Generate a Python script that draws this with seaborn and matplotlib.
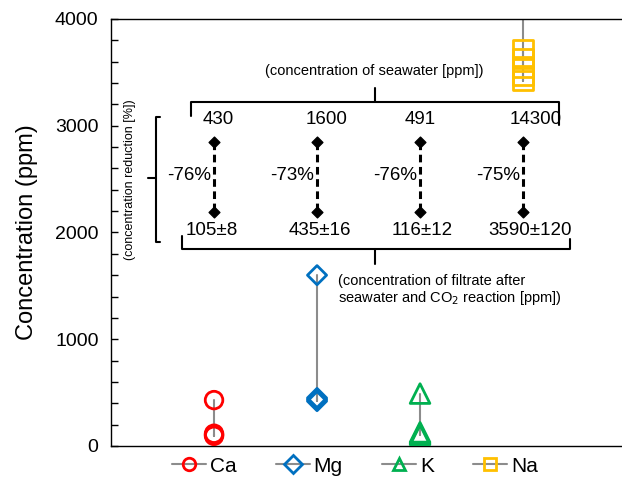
import numpy as np
import pandas as pd
import matplotlib
matplotlib.use('Agg')
import matplotlib.pyplot as plt
from matplotlib.lines import Line2D
import seaborn as sns

sns.set_style('white')
plt.rcParams['font.family'] = ['Liberation Sans', 'DejaVu Sans']
plt.rcParams['text.color'] = 'black'
plt.rcParams['axes.labelcolor'] = 'black'
plt.rcParams['ytick.color'] = 'black'

# --- data ---
elementos = ['Ca', 'Mg', 'K', 'Na']
posiciones = [1, 2, 3, 4]
agua_mar = [430, 1600, 491, 14300]
filtrado = [[95, 105, 115], [420, 435, 450], [104, 116, 128],
            [3420, 3470, 3550, 3630, 3710]]
colores = ['#FF0000', '#0070C0', '#00B050', '#FFC000']
marcadores = ['o', 'D', '^', 's']
tamanos = [160, 95, 200, 190]

reduccion = ['-76%', '-73%', '-76%', '-75%']
etiq_agua = ['430', '1600', '491', '14300']
etiq_filtrado = ['105±8', '435±16', '116±12', '3590±120']

filas = []
for e, x, a, f in zip(elementos, posiciones, agua_mar, filtrado):
    filas.append({'element': e, 'x': x, 'value': a})
    for v in f:
        filas.append({'element': e, 'x': x, 'value': v})
df = pd.DataFrame(filas)

fig = plt.figure(figsize=(6.22, 4.82), dpi=100)
ax = fig.add_axes([0.1785, 0.0747, 0.828, 0.886])

# gray connecting lines
for e in elementos:
    d = df[df['element'] == e]
    sns.lineplot(data=d, x='x', y='value', estimator=None, sort=False,
                 color='#8c8c8c', lw=1.5, ax=ax, zorder=2)

# open markers
for e, c, m, s in zip(elementos, colores, marcadores, tamanos):
    d = df[df['element'] == e]
    sns.scatterplot(data=d, x='x', y='value', marker=m, s=s,
                    facecolors='none', edgecolor=c, color=c, linewidth=2,
                    ax=ax, zorder=3)

ax.set_xlim(0, 5)
ax.set_ylim(0, 4000)
ax.set_xticks([])
ax.set_xlabel('')
ax.set_yticks([0, 1000, 2000, 3000, 4000])
ax.set_yticks(np.arange(0, 4001, 200), minor=True)
ax.tick_params(axis='y', which='both', direction='in', length=5, width=1,
               left=True, labelsize=14, pad=9)
ax.set_ylabel('Concentration (ppm)', fontsize=17, labelpad=12)
for sp in ax.spines.values():
    sp.set_color('black')
    sp.set_linewidth(1)
ax.spines['right'].set_visible(False)

# --- annotations (reduction diagram) ---
k = dict(color='black', lw=1.5, clip_on=False)
# top bracket
ax.plot([0.774, 0.774, 4.35, 4.35], [3091, 3225, 3225, 3007], **k)
ax.plot([2.56, 2.56], [3225, 3354], **k)
ax.text(2.56, 3513, '(concentration of seawater [ppm])', ha='center',
        va='center', fontsize=10.5)
# bottom bracket
ax.plot([0.69, 0.69, 4.46, 4.46], [1967, 1845, 1845, 1940], **k)
ax.plot([2.56, 2.56], [1845, 1705], **k)
ax.text(2.2, 1610, '(concentration of filtrate after\nseawater and CO$_2$ reaction [ppm])',
        ha='left', va='top', fontsize=10.5, linespacing=1.1)
# left bracket
ax.plot([0.476, 0.434, 0.434, 0.476], [3082, 3082, 1911, 1911], **k)
ax.plot([0.36, 0.434], [2511, 2511], **k)
ax.text(0.18, 2492, '(concentration reduction [%])', rotation=90,
        ha='center', va='center', fontsize=9)

for x, ta, tf, r in zip(posiciones, etiq_agua, etiq_filtrado, reduccion):
    ax.plot([x, x], [2850, 2190], color='black', lw=2.2, ls=(0, (2.5, 1.5)),
            zorder=4)
    ax.scatter([x, x], [2850, 2190], marker='D', s=30, color='black', zorder=5)
    ax.text(x - 0.03, 2529, r, ha='right', va='center', fontsize=13.5)

for x, t in zip([1.04, 2.09, 3.0, 4.12], etiq_agua):
    ax.text(x, 3054, t, ha='center', va='center', fontsize=13.5)
for x, t in zip([0.98, 2.03, 3.02, 4.07], etiq_filtrado):
    ax.text(x, 2023, t, ha='center', va='center', fontsize=13.5)

# legend
manijas = [Line2D([0], [0], color='#8c8c8c', lw=1.5, marker=m, markersize=9,
                  markerfacecolor='none', markeredgecolor=c, markeredgewidth=2)
           for m, c in zip(marcadores, colores)]
fig.legend(manijas, elementos, loc='center', bbox_to_anchor=(0.571, 0.033),
           ncol=4, frameon=False, fontsize=15, handlelength=1.6,
           handletextpad=0.2, columnspacing=1.9)

fig.savefig('out.png', dpi=100)
